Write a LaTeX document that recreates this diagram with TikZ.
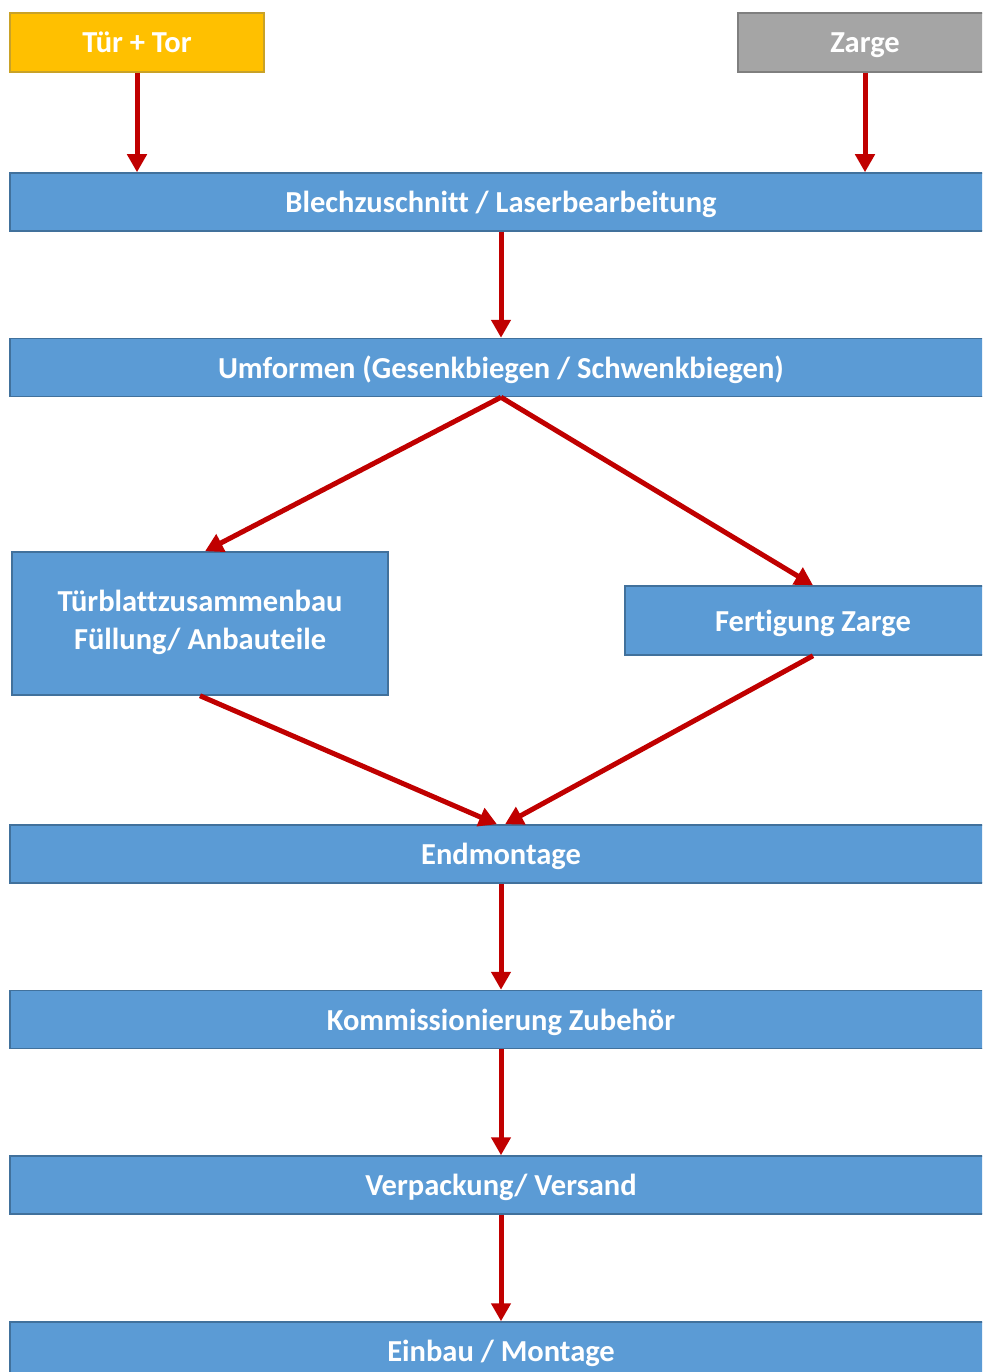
\documentclass[tikz,border=0pt]{standalone}
\usepackage{fontspec}
\setmainfont{Carlito}[Ligatures=NoCommon]
\usetikzlibrary{positioning, arrows.meta}
\definecolor{Blau}{HTML}{5B9BD5}
\definecolor{BlauRand}{HTML}{41719C}
\definecolor{Gold}{HTML}{FFC000}
\definecolor{GoldRand}{HTML}{C9A227}
\definecolor{Grau}{HTML}{A5A5A5}
\definecolor{GrauRand}{HTML}{7F7F7F}
\definecolor{Rot}{HTML}{C00000}
\newcommand{\zeile}{\rule[-7.5pt]{0pt}{36pt}}
\tikzset{
    stepnode/.style={rectangle, fill=Blau, draw=BlauRand, line width=1.5pt, text=white, align=center, inner sep=0pt, execute at begin node=\zeile, font=\bfseries\fontsize{30.5}{38}\selectfont},
    startnode/.style={stepnode, minimum width=254pt, minimum height=59pt},
    widenode/.style={stepnode, minimum width=982pt, minimum height=58pt},
    pfeil/.style={-{Triangle[length=18pt, width=19pt]}, line width=5pt, color=Rot},
}
\begin{document}
\begin{tikzpicture}[x=1pt, y=-1pt]
    \useasboundingbox (0,0) rectangle (982,1372);
    \clip (0,0) rectangle (982,1372);

    % Ausgangsteile
    \node[startnode, fill=Gold, draw=GoldRand] (tuer) at (137,42.5) {Tür + Tor};
    \node[startnode, fill=Grau, draw=GrauRand] (zarge) at (865,42.5) {Zarge};

    % Prozessschritte
    \node[widenode] (blech) at (501,202) {Blechzuschnitt / Laserbearbeitung};
    \node[widenode] (umform) at (501,367.5) {Umformen (Gesenkbiegen / Schwenkbiegen)};
    \node[stepnode, minimum width=376pt, minimum height=143pt] (tuerblatt) at (200,623.5) {Türblattzusammenbau\\Füllung/ Anbauteile};
    \node[stepnode, minimum width=376pt, minimum height=69pt] (fertzarge) at (813,620.5) {Fertigung Zarge};
    \node[widenode] (endmont) at (501,854) {Endmontage};
    \node[widenode] (komm) at (501,1019.5) {Kommissionierung Zubehör};
    \node[widenode] (versand) at (501,1185) {Verpackung/ Versand};
    \node[widenode] (einbau) at (501,1351) {Einbau / Montage};

    % Pfeile
    \draw[pfeil] (tuer.south) -- (tuer.south |- blech.north);
    \draw[pfeil] (zarge.south) -- (zarge.south |- blech.north);
    \draw[pfeil] (blech.south) -- (umform.north);
    \draw[pfeil] (umform.south) -- ([xshift=5pt]tuerblatt.north);
    \draw[pfeil] (umform.south) -- (fertzarge.north);
    \draw[pfeil] (tuerblatt.south) -- ([xshift=-4pt]endmont.north);
    \draw[pfeil] (fertzarge.south) -- ([xshift=4pt]endmont.north);
    \draw[pfeil] (endmont.south) -- (komm.north);
    \draw[pfeil] (komm.south) -- (versand.north);
    \draw[pfeil] (versand.south) -- (einbau.north);
\end{tikzpicture}
\end{document}
